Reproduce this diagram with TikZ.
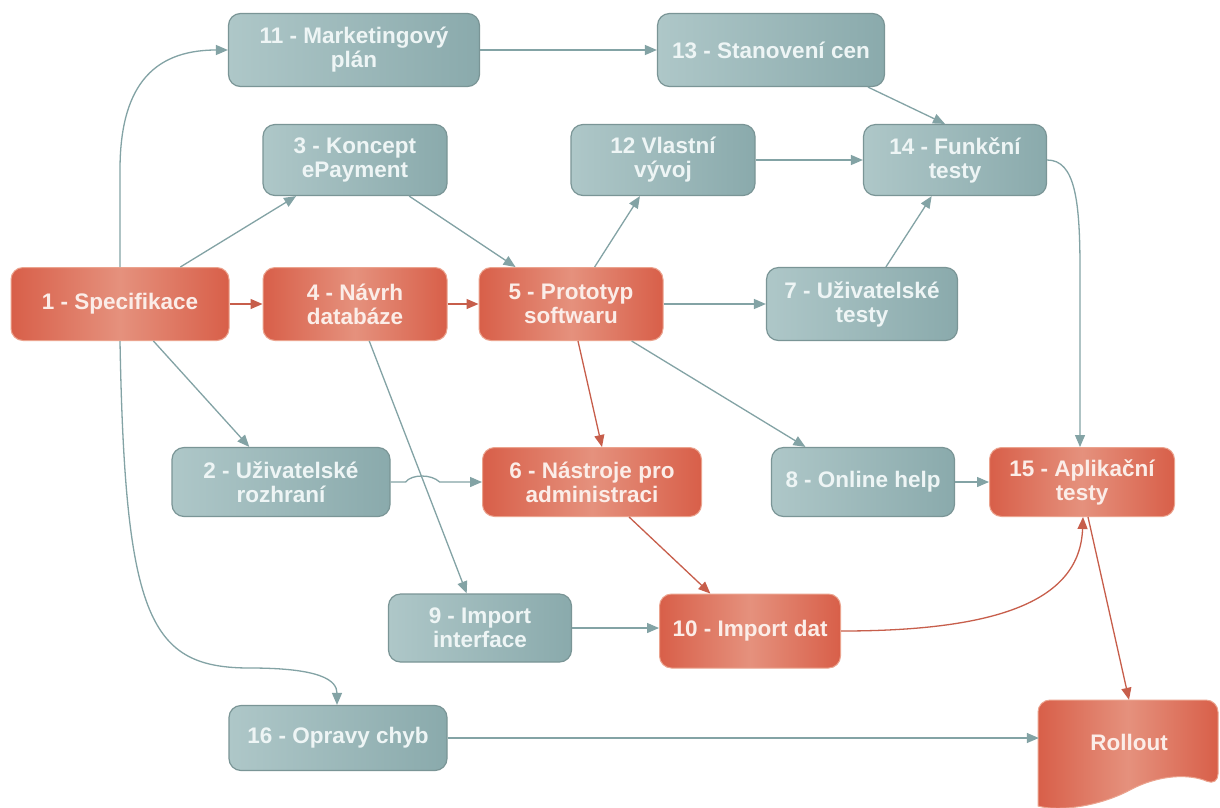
\documentclass[tikz,border=0pt]{standalone}
\usepackage{fontspec}
\setmainfont{Liberation Sans}
\usetikzlibrary{arrows.meta}
\definecolor{rA}{HTML}{D85F49}
\definecolor{rB}{HTML}{E5917D}
\definecolor{rBorder}{HTML}{EBA38E}
\definecolor{tL}{HTML}{AEC7C8}
\definecolor{tR}{HTML}{8AAAAC}
\definecolor{tBorder}{HTML}{7A9596}
\definecolor{tLine}{HTML}{83A3A5}
\definecolor{rLine}{HTML}{C75E4B}
\definecolor{rText}{HTML}{FBEDE8}
\definecolor{tText}{HTML}{EEF5F5}
\tikzset{
  box/.style={rounded corners=12, inner sep=0pt, align=center,
    font=\fontsize{22.5}{24}\selectfont\bfseries},
  rnode/.style={box, draw=rBorder, line width=1pt, left color=rA, right color=rA, middle color=rB, text=rText},
  tnode/.style={box, draw=tBorder, line width=1.2pt, left color=tL, right color=tR, text=tText},
  sz/.style 2 args={minimum width=#1, minimum height=#2},
  tarr/.style={draw=tLine, line width=1.3pt, -{Triangle[length=12pt,width=10pt]}},
  rarr/.style={draw=rLine, line width=1.3pt, -{Triangle[length=12pt,width=10pt]}},
}
\begin{document}
\begin{tikzpicture}[x=1pt,y=-1pt]
\useasboundingbox (0,0) rectangle (1220,807);
\fill[white] (0,0) rectangle (1220,807);

% Rollout document shape
\path[draw=rBorder, line width=1pt, left color=rA, right color=rA, middle color=rB]
  [rounded corners=12] (1038,790) -- (1038,700) -- (1218,700) -- (1218,786)
  [sharp corners] .. controls (1190,774) and (1160,774) .. (1130,790)
  .. controls (1100,806) and (1060,812) .. (1038,806) -- cycle;
\node[box, text=rText, sz={180}{84}] (R) at (1129,742) {Rollout};

\node[tnode, sz={251}{73}] (n11) at (354,50) {11 - Marketingový\\plán};
\node[tnode, sz={227}{73}] (n13) at (771,50) {13 - Stanovení cen};
\node[tnode, sz={184}{71}] (n3) at (355,160) {3 - Koncept\\ePayment};
\node[tnode, sz={184}{71}] (n12) at (663,160) {12 Vlastní\\vývoj};
\node[tnode, sz={183}{71}] (n14) at (955,160) {14 - Funkční\\testy};
\node[rnode, sz={218}{73}] (n1) at (120,304) {1 - Specifikace};
\node[rnode, sz={184}{73}] (n4) at (355,304) {4 - Návrh\\databáze};
\node[rnode, sz={184}{73}] (n5) at (571,304) {5 - Prototyp\\softwaru};
\node[tnode, sz={191}{73}] (n7) at (862,304) {7 - Uživatelské\\testy};
\node[tnode, sz={218}{69}] (n2) at (281,482) {2 - Uživatelské\\rozhraní};
\node[rnode, sz={219}{69}] (n6) at (592,482) {6 - Nástroje pro\\administraci};
\node[tnode, sz={183}{69}] (n8) at (863,482) {8 - Online help};
\node[rnode, sz={185}{69}] (n15) at (1082,482) {15 - Aplikační\\testy};
\node[tnode, sz={183}{68}] (n9) at (480,628) {9 - Import\\interface};
\node[rnode, sz={181}{74}] (n10) at (750,631) {10 - Import dat};
\node[tnode, sz={218}{65}] (n16) at (338,738) {16 - Opravy chyb};

% connectors
\draw[tarr] (n1.north) -- (120,170) .. controls (120,90) and (150,50) .. (n11.west);
\draw[tarr] (n1) -- (n3);
\draw[rarr] (n1.east) -- (n4.west);
\draw[tarr] (n1) -- (n2);
\draw[tarr] (n1.south) .. controls (125,620) and (150,668) .. (250,668)
  .. controls (320,668) and (337,680) .. ([xshift=-1pt]n16.north);
\draw[tarr] (n11.east) -- (n13.west);
\draw[tarr] ([xshift=97pt]n13.south) -- ([xshift=-10pt]n14.north);
\draw[tarr] (n3) -- (n5);
\draw[rarr] (n4.east) -- (n5.west);
\draw[tarr] (n4) -- (n9);
\draw[tarr] (n5) -- (n12);
\draw[tarr] (n12.east) -- (n14.west);
\draw[tarr] (n5.east) -- (n7.west);
\draw[tarr] (n7) -- (n14);
\draw[rarr] ([xshift=7pt]n5.south) -- ([xshift=10pt]n6.north);
\draw[tarr] (n5) -- (n8);
\draw[tarr] (n2.east) -- ++(15,0) .. controls ++(6,-8) and ++(-8,-8) .. ++(34,0) -- (n6.west);
\draw[rarr] (n6) -- (n10);
\draw[tarr] (n8.east) -- (n15.west);
\draw[tarr] (n14.east) .. controls (1075,160) and (1080,200) .. (1080,270) -- ([xshift=-2pt]n15.north);
\draw[tarr] (n9.east) -- (n10.west |- n9.east);
\draw[rarr] (n10.east) .. controls (1000,631) and (1080,600) .. ([xshift=1pt]n15.south);
\draw[rarr] ([xshift=6pt]n15.south) -- (R.north);
\draw[tarr] (n16.east) -- (R.west |- n16.east);
\end{tikzpicture}
\end{document}
